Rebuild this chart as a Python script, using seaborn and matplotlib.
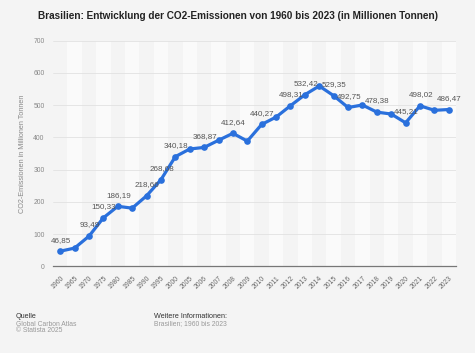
import matplotlib
matplotlib.use("Agg")
import matplotlib.pyplot as plt
import seaborn as sns
import pandas as pd

# ========== Data ==========
years = ["1960", "1965", "1970", "1975", "1980", "1985", "1990", "1995", "2000",
         "2005", "2006", "2007", "2008", "2009", "2010", "2011", "2012", "2013",
         "2014", "2015", "2016", "2017", "2018", "2019", "2020", "2021", "2022", "2023"]
emissions = [46.85, 56.5, 93.49, 150.33, 186.19, 180.4, 218.66, 268.68, 340.18,
             364.0, 368.87, 391.0, 412.64, 388.5, 440.27, 463.0, 498.31, 532.42,
             559.5, 529.35, 492.75, 500.5, 478.38, 472.5, 445.21, 498.02, 484.0, 486.47]
labeled_years = ["1960", "1970", "1975", "1980", "1990", "1995", "2000", "2006", "2008",
                 "2010", "2012", "2013", "2015", "2016", "2018", "2020", "2021", "2023"]
y_ticks = [0, 100, 200, 300, 400, 500, 600, 700]

df = pd.DataFrame({"year": years, "value": emissions})
df["pos"] = range(len(df))

BG = "#f4f4f4"
BLUE = "#2a70dc"

sns.set_style("white")
plt.rcParams["font.family"] = ["Liberation Sans", "DejaVu Sans"]

fig = plt.figure(figsize=(4.75, 3.53), dpi=100, facecolor=BG)
ax = fig.add_axes([53 / 475, 1 - 266.3 / 353, (456 - 53) / 475, (266.3 - 40.7) / 353])
ax.set_facecolor(BG)

# alternating column bands
for i in range(len(years)):
    if i % 2 == 1:
        ax.axvspan(i - 0.5, i + 0.5, color="#fafafa", zorder=0, lw=0)

for t in y_ticks[1:]:
    ax.axhline(t, color="#e2e2e2", lw=0.6, zorder=1)

sns.lineplot(data=df, x="pos", y="value", ax=ax, color=BLUE, lw=2.3,
             marker="o", markersize=4.8, markeredgewidth=0, zorder=3)

for _, row in df.iterrows():
    if row["year"] in labeled_years:
        txt = f"{row['value']:.2f}".replace(".", ",")
        ax.annotate(txt, (row["pos"], row["value"]), xytext=(0.5, 5.5),
                    textcoords="offset points", ha="center", va="bottom",
                    fontsize=5.8, color="#555555", zorder=4)

ax.set_xlim(-0.5, len(years) - 0.5)
ax.set_ylim(0, 700)
ax.set_xticks(df["pos"])
ax.set_xticklabels(years, rotation=45, ha="right", rotation_mode="anchor",
                   fontsize=4.9, color="#666666")
ax.set_yticks(y_ticks)
ax.set_yticklabels([str(t) for t in y_ticks], fontsize=4.9, color="#888888")
ax.tick_params(axis="both", length=0, pad=6)
ax.set_xlabel("")
ax.set_ylabel("CO2-Emissionen in Millionen Tonnen", fontsize=5.2, color="#888888", labelpad=5)

for side in ["top", "right", "left"]:
    ax.spines[side].set_visible(False)
ax.spines["bottom"].set_color("#777777")
ax.spines["bottom"].set_linewidth(0.9)

fig.text(0.5, 1 - 16 / 353, "Brasilien: Entwicklung der CO2-Emissionen von 1960 bis 2023 (in Millionen Tonnen)",
         ha="center", va="center", fontsize=7.2, fontweight="bold", color="#222222")

# footer
fig.text(16 / 475, 1 - 316 / 353, "Quelle", fontsize=5.2, color="#333333", va="center")
fig.text(16 / 475, 1 - 324 / 353, "Global Carbon Atlas", fontsize=4.9, color="#999999", va="center")
fig.text(16 / 475, 1 - 331 / 353, "© Statista 2025", fontsize=4.9, color="#999999", va="center")
fig.text(154 / 475, 1 - 316 / 353, "Weitere Informationen:", fontsize=5.2, color="#333333", va="center")
fig.text(154 / 475, 1 - 324 / 353, "Brasilien; 1960 bis 2023", fontsize=4.9, color="#999999", va="center")

fig.savefig("out.png", dpi=100, facecolor=BG)
